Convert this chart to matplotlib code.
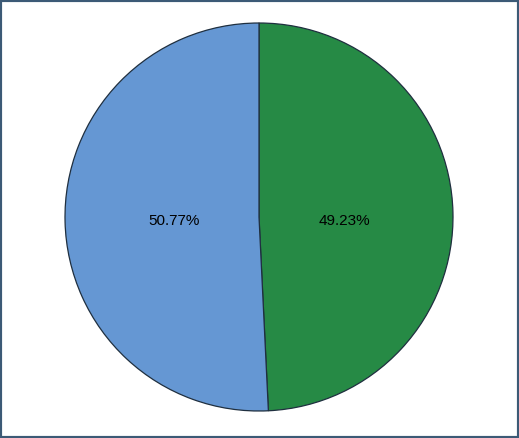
import matplotlib.pyplot as plt
from matplotlib.patches import Rectangle

labels = ['A', 'B']
values = [49.23, 50.77]
colors = ['#268a45', '#6597d3']

fig = plt.figure(figsize=(5.19, 4.38), dpi=100)
ax = fig.add_axes([65 / 519, 27 / 438, 388 / 519, 388 / 438])

wedges, texts, autotexts = ax.pie(
    values, colors=colors, startangle=90, counterclock=False,
    autopct='%.2f%%', pctdistance=0.44, radius=1,
    wedgeprops=dict(edgecolor='#1f2f3f', linewidth=0.9, clip_on=False),
    textprops=dict(fontsize=11, color='black', family='Liberation Sans'))
# labels sit on a common horizontal line just below the centre
for t in autotexts:
    t.set_y(-0.022)
ax.set_xlim(-1.0, 1.0)
ax.set_ylim(-1.0, 1.0)
ax.set_aspect('equal')

# frame around the whole picture
fig.patches.append(Rectangle((0, 0), 1, 1, transform=fig.transFigure,
                             fill=False, edgecolor='#3c5a76', linewidth=3))

fig.savefig('out.png', dpi=100)
